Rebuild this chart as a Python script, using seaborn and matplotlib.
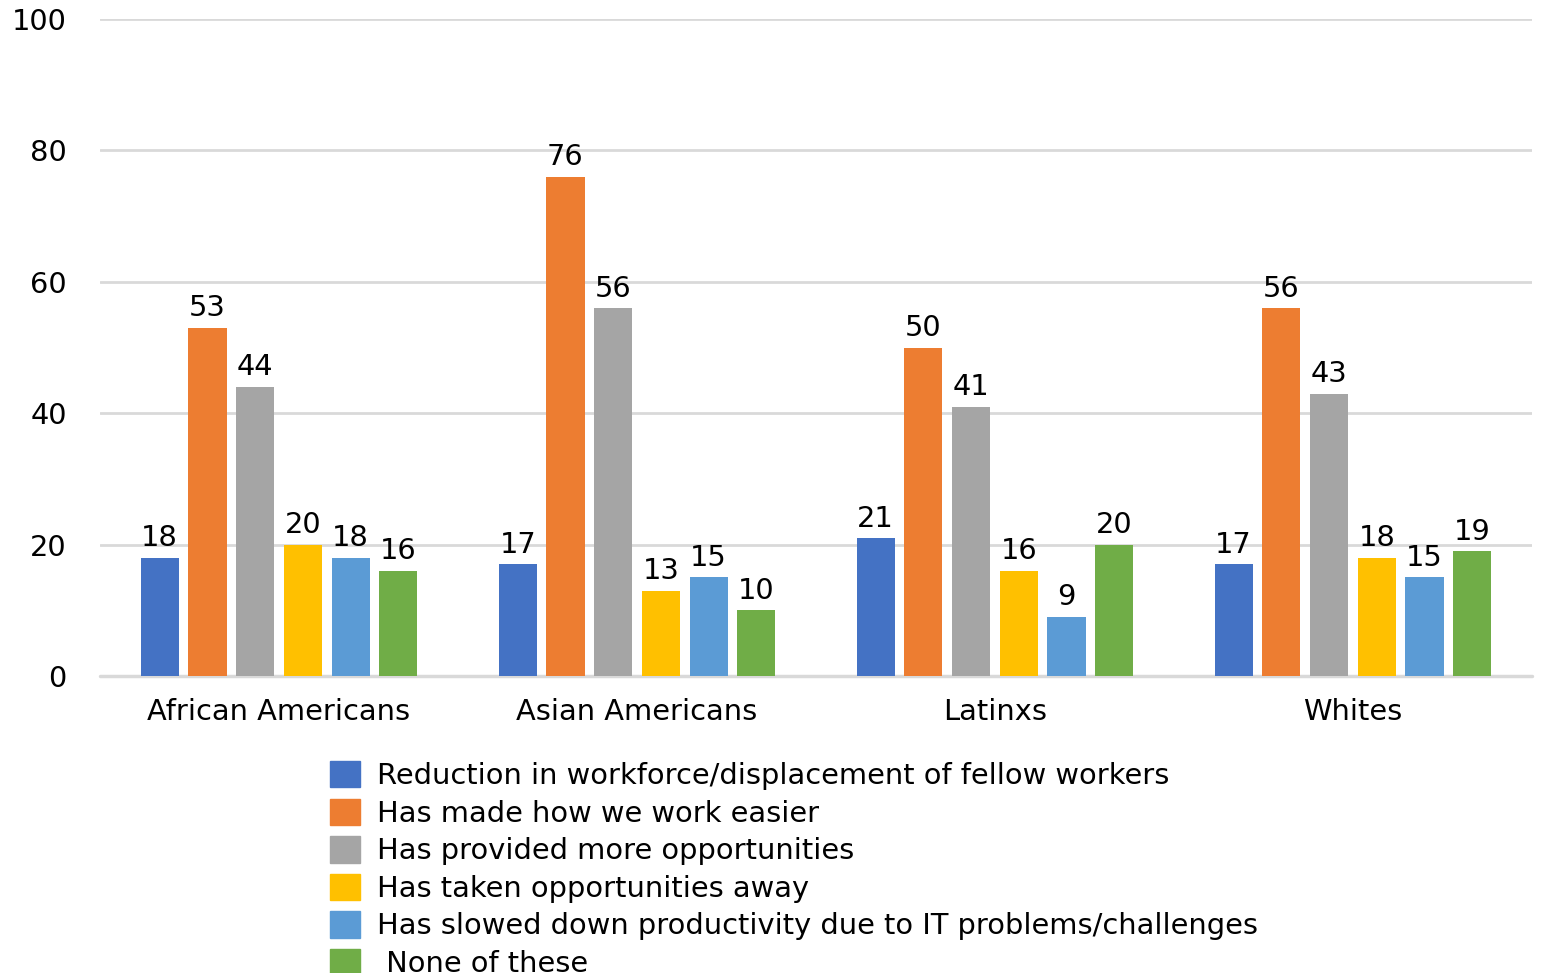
import pandas as pd
import matplotlib.pyplot as plt
import seaborn as sns

groups = ["African Americans", "Asian Americans", "Latinxs", "Whites"]
answers = [
    "Reduction in workforce/displacement of fellow workers",
    "Has made how we work easier",
    "Has provided more opportunities",
    "Has taken opportunities away",
    "Has slowed down productivity due to IT problems/challenges",
    " None of these",
]
reduction = [18, 17, 21, 17]
easier = [53, 76, 50, 56]
more_opps = [44, 56, 41, 43]
taken_away = [20, 13, 16, 18]
slowed = [18, 15, 9, 15]
none_of = [16, 10, 20, 19]
colors = ["#4472C4", "#ED7D31", "#A5A5A5", "#FFC000", "#5B9BD5", "#70AD47"]

series = [reduction, easier, more_opps, taken_away, slowed, none_of]
rows = []
for ans, vals in zip(answers, series):
    for g, v in zip(groups, vals):
        rows.append({"group": g, "answer": ans, "value": v})
df = pd.DataFrame(rows)

sns.set_style("white")
plt.rcParams["font.family"] = ["DejaVu Sans"]
plt.rcParams["text.color"] = "black"

fig = plt.figure(figsize=(15.44, 9.73), dpi=100)
ax = fig.add_axes([0.0648, 0.3052, 0.9274, 0.6753])

sns.barplot(data=df, x="group", y="value", hue="answer", order=groups,
            hue_order=answers, palette=colors, width=0.8, gap=0.2,
            saturation=1, linewidth=0, ax=ax, zorder=3)

fs = 20.8
for c in ax.containers:
    ax.bar_label(c, fmt="%d", padding=4, fontsize=fs, color="black")

ax.set_ylim(0, 100)
ax.set_yticks([0, 20, 40, 60, 80, 100])
ax.set_xlim(-0.5, 3.5)
ax.yaxis.grid(True, color="#D9D9D9", linewidth=2, zorder=0)
ax.axhline(0, color="#D9D9D9", linewidth=2.5, zorder=2, clip_on=False)
for s in ax.spines.values():
    s.set_visible(False)
ax.tick_params(axis="both", length=0, labelsize=fs, colors="black")
ax.tick_params(axis="y", pad=24)
ax.tick_params(axis="x", pad=16)
ax.set_xlabel("")
ax.set_ylabel("")

ax.get_legend().remove()
handles = [plt.Rectangle((0, 0), 1, 1, color=c) for c in colors]
fig.legend(handles, answers, loc="upper left",
           bbox_to_anchor=(330 / 1544, 1 - 761 / 973),
           frameon=False, fontsize=fs, borderpad=0, borderaxespad=0,
           handlelength=1.03, handleheight=1.03, handletextpad=0.6,
           labelspacing=0.295, labelcolor="black")

fig.savefig("out.png", dpi=100)
